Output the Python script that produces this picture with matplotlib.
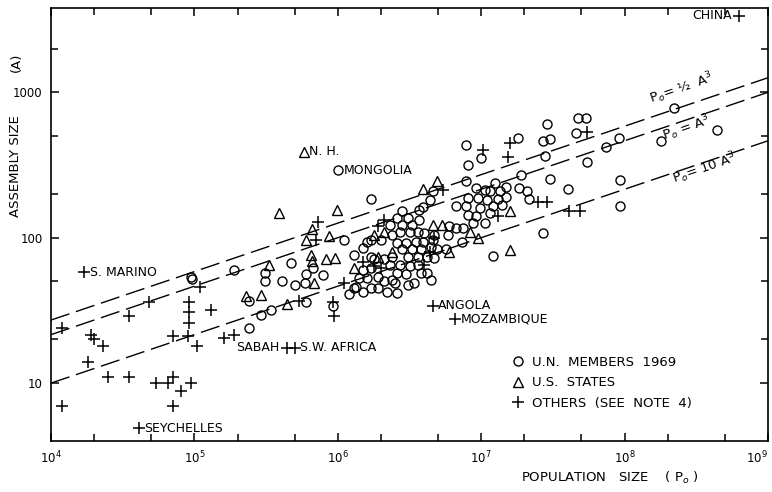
import matplotlib
matplotlib.use('Agg')
import matplotlib.pyplot as plt
import numpy as np
from matplotlib.ticker import LogLocator, FixedLocator, FixedFormatter, NullFormatter, LogFormatterSciNotation
from matplotlib.lines import Line2D

plt.rcParams['font.family'] = ['DejaVu Sans']

# U.N. members 1969 (population, assembly size); first entries carry a name
un_names = ['MONGOLIA']
un_pop = [1.0e6, 9.5e4, 9.7e4, 1.9e5, 2.4e5, 2.4e5, 2.9e5, 3.4e5, 3.1e5, 3.1e5,
          4.1e5, 4.7e5, 5.0e5, 5.9e5, 6.0e5, 6.0e5, 6.7e5, 7.9e5, 9.2e5, 1.1e6,
          1.7e6, 1.2e6, 1.3e6, 1.5e6, 3.7e6, 2.8e6, 2.6e6, 3.1e6, 2.3e6, 2.8e6,
          3.3e6, 3.7e6, 1.7e6, 2.0e6, 2.4e6, 2.7e6, 3.2e6, 3.6e6, 1.6e6, 2.6e6,
          3.0e6, 3.5e6, 2.8e6, 3.3e6, 3.8e6, 2.4e6, 3.1e6, 3.6e6, 1.8e6, 2.1e6,
          2.3e6, 2.7e6, 3.2e6, 3.6e6, 1.5e6, 1.7e6, 2.6e6, 3.0e6, 3.8e6, 1.4e6,
          1.6e6, 1.9e6, 2.1e6, 2.5e6, 3.4e6, 1.35e6, 1.7e6, 1.9e6, 3.1e6, 2.2e6,
          2.6e6, 4.2e6, 4.5e6, 2.4e6, 7.8e6, 9.9e6, 8.1e6, 1.8e7, 4.6e6, 7.9e6,
          4.4e6, 3.9e6, 9.2e6, 1.06e7, 1.24e7, 1.15e7, 1.35e7, 1.5e7, 1.85e7, 8.1e6,
          9.5e6, 1.1e7, 1.3e7, 1.5e7, 6.7e6, 7.9e6, 9.8e6, 1.2e7, 1.4e7, 8.1e6,
          9.2e6, 1.15e7, 8.8e6, 1.06e7, 6.7e6, 7.5e6, 5.9e6, 4.7e6, 4.0e6, 3.9e6,
          4.6e6, 4.5e6, 7.3e6, 4.9e6, 4.2e6, 4.7e6, 5.7e6, 1.2e7, 2.2e8, 1.8e8,
          4.4e8, 2.9e7, 4.7e7, 5.4e7, 4.6e7, 2.7e7, 3.0e7, 2.8e7, 7.4e7, 9.2e7,
          5.5e7, 1.9e7, 3.0e7, 4.0e7, 9.3e7, 9.3e7, 2.7e7, 2.1e7, 2.15e7, 1.5e6,
          1.7e6, 1.3e6, 6.0e6]
un_seats = [290, 54, 52, 60, 36.5, 24, 29.6, 32, 57, 50,
            50, 67, 47, 49, 36, 56, 62, 55, 34, 97,
            185, 41, 45, 42, 156, 152, 137, 137, 123, 123,
            123, 133, 97, 97, 105, 110, 110, 110, 94, 92,
            92, 94, 83, 83, 83, 74, 74, 74, 71, 71,
            65, 65, 63.5, 65, 60, 62, 57, 56, 57, 53,
            53, 54, 50, 49, 49, 46, 45, 45, 47.5, 42,
            41.7, 57, 51, 51, 435, 353, 318, 484, 208, 244,
            182, 163, 220, 214, 238, 208, 208, 225, 220, 187,
            187, 182, 185, 190, 164, 164, 160, 164, 169, 144,
            140, 148, 126, 126, 117, 117, 105, 105, 108, 94,
            97, 87, 93, 83, 74, 72.5, 83, 75, 780, 460,
            550, 610, 665, 665, 525, 460, 477, 366, 424, 484,
            334, 271, 253, 216, 250, 164, 108, 208, 185, 85,
            74, 76, 120]

# U.S. states
us_names = ['N. H.']
us_pop = [5.8e5, 3.9e5, 9.8e5, 6.6e5, 6.0e5, 8.7e5, 6.5e5, 6.6e5, 8.3e5, 9.5e5,
          3.3e5, 2.3e5, 2.9e5, 6.8e5, 4.4e5, 1.3e6, 3.9e6, 4.9e6, 8.3e6, 1.6e7,
          1.6e7, 9.5e6, 6.0e6, 4.6e6, 5.3e6, 1.8e6, 2.1e6, 2.4e6, 1.9e6]
us_seats = [390, 148, 154, 114, 97, 103, 76, 69, 71, 72,
            65, 40, 40.6, 49, 35, 62, 217, 247, 110, 152,
            82, 99, 80, 123, 123, 105, 110, 80, 74]

# others (see note 4)
oth_names = ['S. MARINO', 'SEYCHELLES', 'SABAH', 'S.W. AFRICA', 'ANGOLA',
             'MOZAMBIQUE', 'CHINA']
oth_pop = [1.7e4, 4.1e4, 4.4e5, 5.0e5, 4.6e6, 6.6e6, 6.3e8,
           1.2e4, 3.5e4, 4.8e4, 9.2e4, 9.2e4, 9.2e4, 1.9e4, 2.0e4, 2.3e4,
           7.1e4, 9.0e4, 1.04e5, 1.8e4, 2.5e4, 3.5e4, 5.4e4, 6.6e4, 7.1e4,
           8.1e4, 9.4e4, 1.2e4, 7.1e4, 1.3e5, 1.1e5, 1.6e5, 1.9e5, 7.3e5,
           7.1e5, 5.4e5, 9.2e5, 9.4e5, 1.1e6, 2.1e6, 2.0e6, 5.4e6, 1.03e7,
           1.6e7, 1.54e7, 1.3e7, 5.5e7, 2.5e7, 2.9e7, 4.1e7, 4.9e7, 4.0e6,
           1.9e6, 4.4e6, 4.7e6, 1.8e6, 1.5e6]
oth_seats = [58, 4.9, 17.5, 17.5, 34, 27.6, 3350,
             24, 29, 36, 36, 31, 26, 21.5, 20, 18,
             21, 21, 18, 14, 11, 11, 10, 10, 11,
             8.8, 10, 7, 7, 32, 46, 20.5, 21.5, 129,
             97, 37, 36, 29, 49, 133, 62, 214, 400,
             450, 360, 140, 530, 175, 175, 152, 152, 65,
             121, 80, 100, 64, 68]

# reference lines P0 = k * A^3
line_k = [0.5, 1, 10]
line_labels = [r'P$_o$= ½  A$^3$', r'P$_o$ = A$^3$', r'P$_o$= 10 A$^3$']

x_ticks = [1e4, 1e5, 1e6, 1e7, 1e8, 1e9]
y_ticks = [10, 100, 1000]
y_ticklabels = ['10', '100', '1000']

fig = plt.figure(figsize=(7.72, 4.92), dpi=100)
ax = fig.add_axes([0.066, 0.1037, 0.9288, 0.88])
ax.set_xscale('log')
ax.set_yscale('log')
ax.set_xlim(1e4, 1e9)
ax.set_ylim(4, 3800)

p = np.logspace(4, 9, 100)
for k in line_k:
    ax.plot(p, (p / k) ** (1 / 3), color='k', lw=1.0, dashes=(14, 5))

mk = dict(linestyle='none', color='k', mfc='none')
ax.plot(un_pop, un_seats, marker='o', ms=6.5, mew=1.0, **mk)
ax.plot(us_pop, us_seats, marker='^', ms=7, mew=1.0, **mk)
ax.plot(oth_pop, oth_seats, marker='+', ms=8, mew=1.1, **mk)

# names next to some points
left_side = ['SABAH', 'CHINA']
def label_points(names, pops, seats):
    for i, name in enumerate(names):
        if name in left_side:
            ax.annotate(name, (pops[i], seats[i]), xytext=(-5, 0), textcoords='offset points',
                        ha='right', va='center', fontsize=9)
        else:
            ax.annotate(name, (pops[i], seats[i]), xytext=(4, 0), textcoords='offset points',
                        ha='left', va='center', fontsize=9)

label_points(un_names, un_pop, un_seats)
label_points(us_names, us_pop, us_seats)
label_points(oth_names, oth_pop, oth_seats)

# line labels
ax.text(2.5e8, 1070, line_labels[0], rotation=19, ha='center', va='center', fontsize=9.5)
ax.text(2.7e8, 570, line_labels[1], rotation=19, ha='center', va='center', fontsize=9.5)
ax.text(3.6e8, 300, line_labels[2], rotation=19, ha='center', va='center', fontsize=9.5)

# ticks
ax.xaxis.set_major_locator(FixedLocator(x_ticks))
ax.xaxis.set_major_formatter(LogFormatterSciNotation())
ax.xaxis.set_minor_locator(LogLocator(base=10, subs=(2, 5), numticks=10))
ax.xaxis.set_minor_formatter(NullFormatter())
ax.yaxis.set_major_locator(FixedLocator(y_ticks))
ax.yaxis.set_major_formatter(FixedFormatter(y_ticklabels))
ax.yaxis.set_minor_locator(FixedLocator([20, 50, 200, 500, 2000]))
ax.yaxis.set_minor_formatter(NullFormatter())
ax.tick_params(which='both', direction='in', top=True, right=True, width=1.1)
ax.tick_params(which='major', length=6, labelsize=8.5, pad=6)
ax.tick_params(which='minor', length=5)
for s in ax.spines.values():
    s.set_linewidth(1.2)

# last x label sits at the figure edge, keep it inside
fig.canvas.draw()
ax.xaxis.get_major_ticks()[-1].label1.set_horizontalalignment('right')

# y label is split so that the 1000 tick label sits in its gap
fig.text(16 / 772, 1 - 166 / 492, 'ASSEMBLY SIZE', rotation=90,
         ha='center', va='center', fontsize=9.5)
fig.text(16 / 772, 1 - 62 / 492, '(A)', rotation=90,
         ha='center', va='center', fontsize=9.5)
fig.text(610 / 772, 1 - 478 / 492, r'POPULATION   SIZE    ( P$_o$ )',
         ha='center', va='center', fontsize=9.5)

handles = [Line2D([], [], marker='o', ms=6.5, mew=1.0, **mk),
           Line2D([], [], marker='^', ms=7, mew=1.0, **mk),
           Line2D([], [], marker='+', ms=8, mew=1.1, **mk)]
ax.legend(handles, ['U.N.  MEMBERS  1969', 'U.S.  STATES', 'OTHERS  (SEE  NOTE  4)'],
          loc='lower left', bbox_to_anchor=(0.625, 0.045), frameon=False,
          fontsize=9.5, handlelength=1.0, handletextpad=0.6, labelspacing=0.55)

plt.savefig('out.png', dpi=100)
